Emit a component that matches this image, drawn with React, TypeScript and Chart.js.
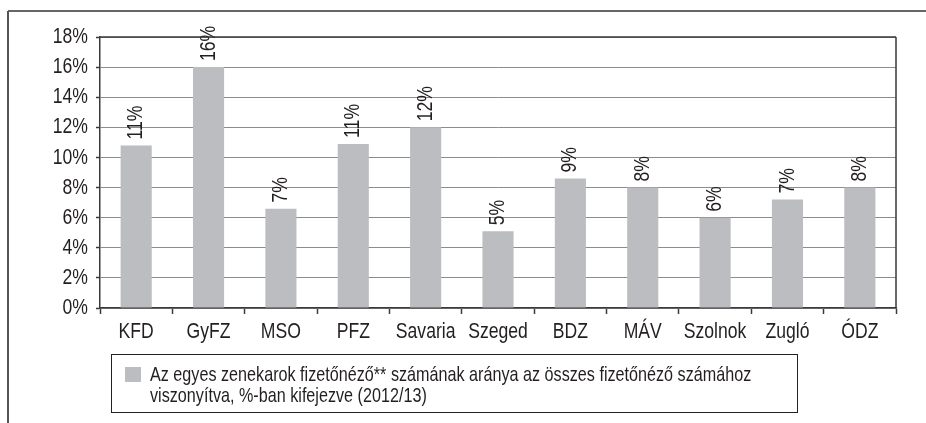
import React, { useEffect, useRef } from 'react';
import { Chart, registerables } from 'chart.js';

Chart.register(...registerables);

// ---- data ----
const categories = ['KFD', 'GyFZ', 'MSO', 'PFZ', 'Savaria', 'Szeged', 'BDZ', 'MÁV', 'Szolnok', 'Zugló', 'ÓDZ'];
const shares = [10.8, 16.0, 6.6, 10.9, 12.0, 5.1, 8.6, 8.0, 6.0, 7.2, 8.0];
const valueLabels = ['11%', '16%', '7%', '11%', '12%', '5%', '9%', '8%', '6%', '7%', '8%'];
const yMin = 0;
const yMax = 18;
const yStep = 2;
const legendLines = [
  'Az egyes zenekarok fizetőnéző** számának aránya az összes fizetőnéző számához',
  'viszonyítva, %-ban kifejezve (2012/13)',
];

// ---- styles ----
const FONT = '"Liberation Sans", Arial, sans-serif';
const AXIS_SX = 0.8; // horizontal text condensing (Helvetica Condensed look)
const LEGEND_SX = 0.77;
const TEXT = '#231f20';
const BAR = '#bcbdc0';
const GRID = '#8c8c8c';
const AXIS = '#3a3a3a';

const condense = { sx: AXIS_SX };

function condenseContext(ctx: CanvasRenderingContext2D) {
  const origFill = ctx.fillText.bind(ctx);
  const origMeasure = ctx.measureText.bind(ctx);
  (ctx as any).fillText = (text: string, x: number, y: number, maxWidth?: number) => {
    const sx = condense.sx;
    ctx.save();
    ctx.translate(x, y);
    ctx.scale(sx, 1);
    if (maxWidth !== undefined) origFill(text, 0, 0, maxWidth / sx);
    else origFill(text, 0, 0);
    ctx.restore();
  };
  (ctx as any).measureText = (text: string) => {
    const sx = condense.sx;
    const m = origMeasure(text);
    return {
      width: m.width * sx,
      actualBoundingBoxLeft: m.actualBoundingBoxLeft * sx,
      actualBoundingBoxRight: m.actualBoundingBoxRight * sx,
      actualBoundingBoxAscent: m.actualBoundingBoxAscent,
      actualBoundingBoxDescent: m.actualBoundingBoxDescent,
      fontBoundingBoxAscent: (m as any).fontBoundingBoxAscent,
      fontBoundingBoxDescent: (m as any).fontBoundingBoxDescent,
    };
  };
}

const decorPlugin = {
  id: 'decor',
  afterDatasetsDraw(chart: any) {
    const { ctx } = chart;
    const meta = chart.getDatasetMeta(0);
    ctx.save();
    ctx.font = `22px ${FONT}`;
    ctx.fillStyle = TEXT;
    ctx.textAlign = 'left';
    ctx.textBaseline = 'middle';
    meta.data.forEach((bar: any, i: number) => {
      ctx.save();
      ctx.translate(bar.x, bar.y - 6);
      ctx.rotate(-Math.PI / 2);
      ctx.fillText(valueLabels[i], 0, 0);
      ctx.restore();
    });
    ctx.restore();
  },
  afterDraw(chart: any) {
    const { ctx, chartArea: a, width, height } = chart;
    ctx.save();
    // plot area top and right borders
    ctx.strokeStyle = AXIS;
    ctx.lineWidth = 1.5;
    ctx.beginPath();
    ctx.moveTo(a.left, a.top);
    ctx.lineTo(a.right, a.top);
    ctx.moveTo(a.right, a.top);
    ctx.lineTo(a.right, a.bottom);
    ctx.stroke();

    // outer frame (top + left)
    ctx.strokeStyle = '#333333';
    ctx.lineWidth = 1.5;
    ctx.beginPath();
    ctx.moveTo(8, 11);
    ctx.lineTo(width, 11);
    ctx.stroke();
    ctx.strokeStyle = '#555555';
    ctx.lineWidth = 2;
    ctx.beginPath();
    ctx.moveTo(8, 11);
    ctx.lineTo(8, height);
    ctx.stroke();

    // legend box
    const lx = a.left + 11;
    const ly = a.bottom + 46;
    const lw = 686;
    const lh = 58;
    ctx.strokeStyle = '#222222';
    ctx.lineWidth = 1;
    ctx.strokeRect(lx + 0.5, ly + 0.5, lw, lh);
    ctx.fillStyle = BAR;
    ctx.fillRect(lx + 14, ly + 13, 16, 15);
    ctx.fillStyle = TEXT;
    ctx.font = `21px ${FONT}`;
    ctx.textAlign = 'left';
    ctx.textBaseline = 'alphabetic';
    condense.sx = LEGEND_SX;
    legendLines.forEach((line, i) => {
      ctx.fillText(line, lx + 39, ly + 27 + i * 20.7);
    });
    condense.sx = AXIS_SX;
    ctx.restore();
  },
};

export default function App() {
  const canvasRef = useRef<HTMLCanvasElement | null>(null);

  useEffect(() => {
    const canvas = canvasRef.current;
    if (!canvas) return;
    const ctx2d = canvas.getContext('2d') as CanvasRenderingContext2D;
    condenseContext(ctx2d);
    const chart = new Chart(ctx2d, {
      type: 'bar',
      data: {
        labels: categories,
        datasets: [
          {
            label: legendLines.join(' '),
            data: shares,
            backgroundColor: BAR,
            borderWidth: 0,
            barPercentage: 0.43,
            categoryPercentage: 1.0,
          },
        ],
      },
      options: {
        responsive: false,
        animation: false,
        devicePixelRatio: 1,
        layout: { padding: { top: 37, right: 30, left: 0, bottom: 0 } },
        plugins: {
          legend: { display: false },
          tooltip: { enabled: false },
        },
        scales: {
          x: {
            grid: {
              drawOnChartArea: false,
              drawTicks: true,
              tickLength: 6,
              tickColor: AXIS,
              tickWidth: 1.5,
              offset: true,
            },
            border: { color: AXIS, width: 1.5 },
            ticks: {
              font: { family: FONT, size: 22 },
              color: TEXT,
              padding: 5,
              maxRotation: 0,
              autoSkip: false,
            },
            afterFit: (s: any) => {
              s.height = 115;
            },
          },
          y: {
            min: yMin,
            max: yMax,
            ticks: {
              stepSize: yStep,
              callback: (v: any) => `${v}%`,
              font: { family: FONT, size: 22 },
              color: TEXT,
              padding: 8,
            },
            grid: {
              color: GRID,
              lineWidth: 1,
              tickLength: 4,
              tickColor: AXIS,
              tickWidth: 1.5,
            },
            border: { color: AXIS, width: 1.5 },
            afterFit: (s: any) => {
              s.width = 100;
            },
          },
        },
      },
      plugins: [decorPlugin],
    } as any);
    return () => chart.destroy();
  }, []);

  return (
    <div style={{ position: 'fixed', left: 0, top: 0, width: 926, height: 423, background: '#ffffff' }}>
      <canvas ref={canvasRef} width={926} height={423} style={{ display: 'block' }} />
    </div>
  );
}
